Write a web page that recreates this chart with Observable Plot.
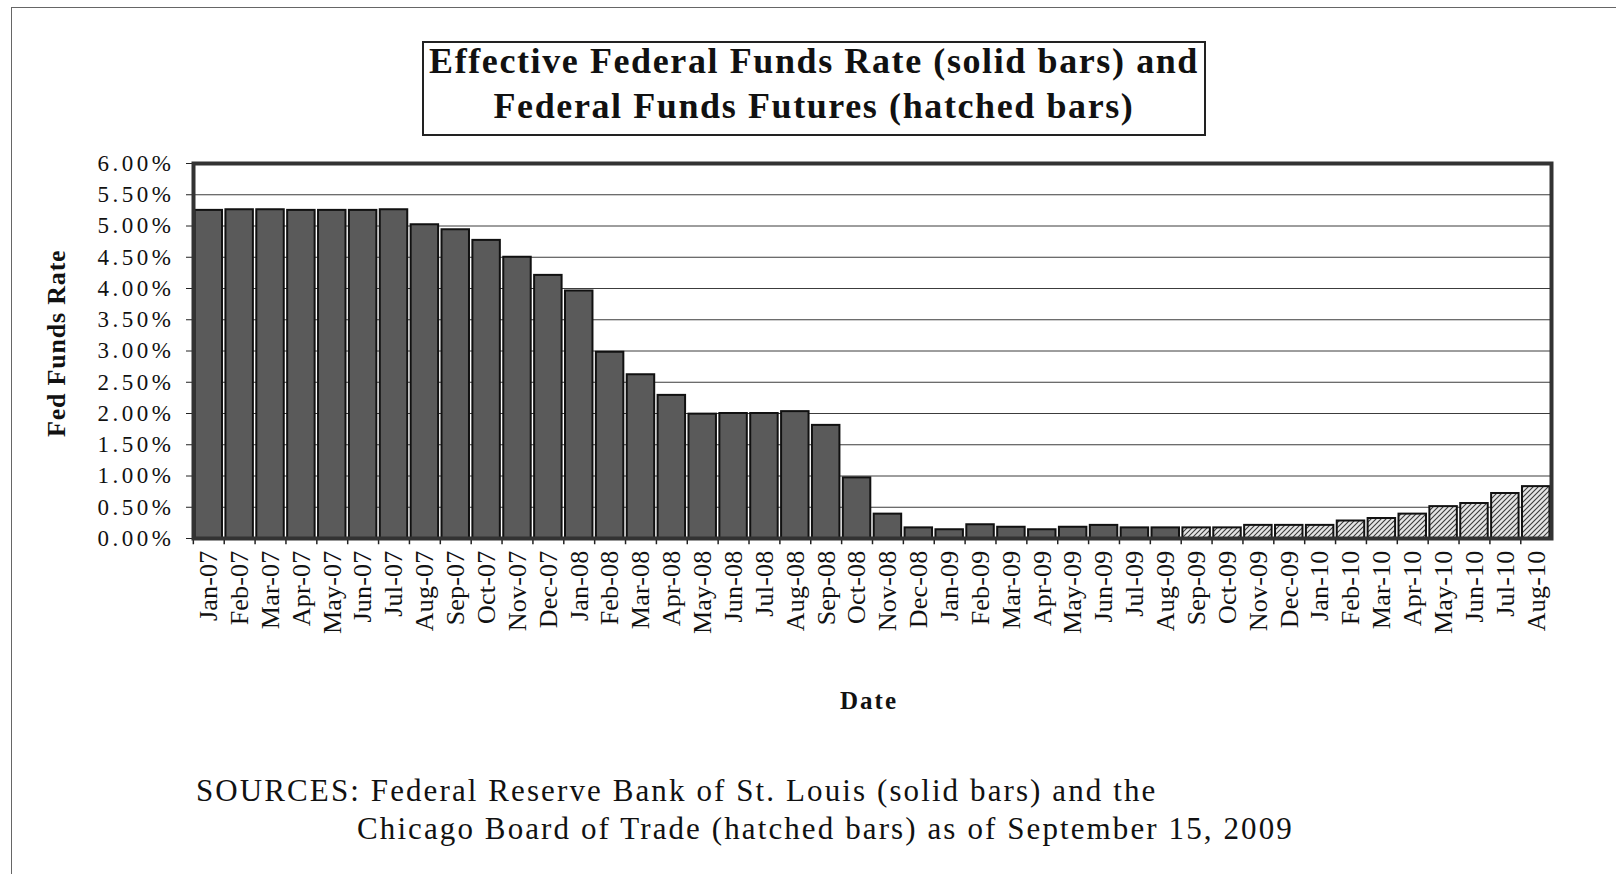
<!DOCTYPE html>
<html>
<head>
<meta charset="utf-8">
<script src="https://cdn.jsdelivr.net/npm/d3@7"></script>
<script src="https://cdn.jsdelivr.net/npm/@observablehq/plot@0.6"></script>
<style>
  html, body { margin: 0; padding: 0; background: #fff; }
  #page {
    position: relative; width: 1616px; height: 874px; overflow: hidden;
    font-family: "Liberation Serif", "Times New Roman", serif; color: #111;
  }
  #sheet {
    position: absolute; left: 11px; top: 7px; right: -4px; bottom: -4px;
    border-top: 1.5px solid #666; border-left: 1.5px solid #666;
  }
  #chart { position: absolute; left: 0; top: 0; }
  #title {
    position: absolute; left: 422px; top: 41px; width: 780px; height: 91px;
    border: 2px solid #222; background: #fff;
  }
  .tline {
    position: absolute; left: 0; width: 100%; text-align: center;
    font-weight: bold; font-size: 36px; letter-spacing: 1.6px; line-height: 40px; white-space: nowrap;
  }
  #ylab {
    position: absolute; font-weight: bold; font-size: 26px; letter-spacing: 0.8px;
    line-height: 30px; height: 30px; white-space: nowrap;
    transform: rotate(-90deg); transform-origin: left top;
  }
  #xlab {
    position: absolute; left: 769px; width: 200px; top: 686px; text-align: center;
    font-weight: bold; font-size: 25px; letter-spacing: 2px; line-height: 30px;
  }
  .src {
    position: absolute; font-size: 31px; letter-spacing: 2.1px; line-height: 36px; white-space: nowrap;
  }
</style>
</head>
<body>
<div id="page">
  <div id="sheet"></div>
  <div id="chart"></div>
  <div id="title">
    <div class="tline" style="top:-2px">Effective Federal Funds Rate (solid bars) and</div>
    <div class="tline" style="top:43px">Federal Funds Futures (hatched bars)</div>
  </div>
  <div id="ylab">Fed Funds Rate</div>
  <div id="xlab">Date</div>
  <div class="src" style="left:196px; top:773px">SOURCES: Federal Reserve Bank of St. Louis (solid bars) and the</div>
  <div class="src" style="left:357px; top:811px">Chicago Board of Trade (hatched bars) as of September 15, 2009</div>
</div>
<script>
// Monthly categories, Jan-07 through Aug-10
const months = [
  "Jan-07","Feb-07","Mar-07","Apr-07","May-07","Jun-07","Jul-07","Aug-07","Sep-07","Oct-07","Nov-07","Dec-07",
  "Jan-08","Feb-08","Mar-08","Apr-08","May-08","Jun-08","Jul-08","Aug-08","Sep-08","Oct-08","Nov-08","Dec-08",
  "Jan-09","Feb-09","Mar-09","Apr-09","May-09","Jun-09","Jul-09","Aug-09","Sep-09","Oct-09","Nov-09","Dec-09",
  "Jan-10","Feb-10","Mar-10","Apr-10","May-10","Jun-10","Jul-10","Aug-10"
];

// Effective federal funds rate (%), Jan-07 .. Aug-09 (solid bars)
const effectiveRate = [
  5.25, 5.26, 5.26, 5.25, 5.25, 5.25, 5.26, 5.02, 4.94, 4.77, 4.50, 4.21,
  3.96, 2.98, 2.62, 2.29, 1.99, 2.00, 2.00, 2.03, 1.81, 0.97, 0.39, 0.17,
  0.14, 0.22, 0.18, 0.14, 0.18, 0.21, 0.17, 0.17
];

// Federal funds futures (%), Sep-09 .. Aug-10 (hatched bars)
const futuresRate = [0.17, 0.17, 0.21, 0.21, 0.21, 0.28, 0.32, 0.39, 0.51, 0.56, 0.72, 0.83];

// Axis ticks, 0% to 6% every half point
const yTicks = [0, 0.5, 1, 1.5, 2, 2.5, 3, 3.5, 4, 4.5, 5, 5.5, 6];

const effective = effectiveRate.map((v, i) => ({month: months[i], rate: v}));
const futures = futuresRate.map((v, i) => ({month: months[effectiveRate.length + i], rate: v}));

const W = 1616, H = 660;
const mLeft = 193, mRight = 65, mTop = 163, mBottom = H - 538;
const padIn = 0.11, padOut = 0.05;
const step = (W - mLeft - mRight) / (months.length - padIn + 2 * padOut);

const chart = Plot.plot({
  width: W,
  height: H,
  marginLeft: mLeft,
  marginRight: mRight,
  marginTop: mTop,
  marginBottom: mBottom,
  style: {fontFamily: "'Liberation Serif', 'Times New Roman', serif", color: "#111", background: "transparent", overflow: "visible"},
  x: {domain: months, type: "band", paddingInner: padIn, paddingOuter: padOut, label: null},
  y: {domain: [0, 6], label: null},
  marks: [
    Plot.gridY(yTicks, {stroke: "#1a1a1a", strokeOpacity: 0.85, strokeWidth: 1}),
    Plot.barY(effective, {x: "month", y: "rate", fill: "#5a5a5a", stroke: "#111", strokeWidth: 2}),
    Plot.barY(futures, {x: "month", y: "rate", fill: "url(#hatch)", stroke: "#111", strokeWidth: 2}),
    Plot.ruleX(months, {x: d => d, y1: 0, y2: -0.1, dx: -step / 2, stroke: "#222", strokeWidth: 1.5}),
    Plot.axisY({ticks: yTicks, tickFormat: d => d.toFixed(2) + "%", tickSize: 7, tickPadding: 12, fontSize: 23, stroke: "#222"}),
    Plot.axisX({tickRotate: -90, tickSize: 0, tickPadding: 12, fontSize: 26}),
    Plot.frame({stroke: "#333", strokeWidth: 4})
  ]
});

// Diagonal hatch used by the futures bars
const ns = "http://www.w3.org/2000/svg";
const defs = document.createElementNS(ns, "defs");
const pat = document.createElementNS(ns, "pattern");
pat.setAttribute("id", "hatch");
pat.setAttribute("patternUnits", "userSpaceOnUse");
pat.setAttribute("width", "5");
pat.setAttribute("height", "5");
const bg = document.createElementNS(ns, "rect");
bg.setAttribute("width", "5");
bg.setAttribute("height", "5");
bg.setAttribute("fill", "#e4e4e4");
const hl = document.createElementNS(ns, "path");
hl.setAttribute("d", "M-1,1 L1,-1 M0,5 L5,0 M4,6 L6,4");
hl.setAttribute("stroke", "#3a3a3a");
hl.setAttribute("stroke-width", "1.1");
pat.appendChild(bg);
pat.appendChild(hl);
defs.appendChild(pat);
chart.insertBefore(defs, chart.firstChild);

d3.select(chart).selectAll('g[aria-label="y-axis tick label"] text').style("letter-spacing", "3.5px");
d3.select(chart).selectAll('g[aria-label="x-axis tick label"] text').style("letter-spacing", "0.2px");

document.getElementById("chart").appendChild(chart);

// Rotated axis title: bottom of the text sits at y=437, centred on x=57
const ylab = document.getElementById("ylab");
ylab.style.left = (57 - 15) + "px";
ylab.style.top = "437px";
</script>
</body>
</html>
